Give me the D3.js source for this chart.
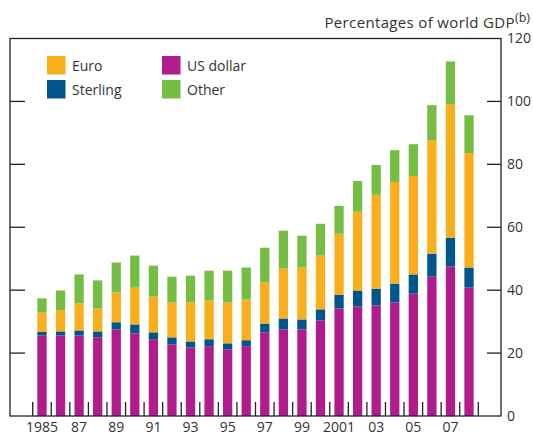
<!DOCTYPE html>
<html><head><meta charset="utf-8">
<script src="https://cdn.jsdelivr.net/npm/d3@7/dist/d3.min.js"></script>
<style>body{margin:0;background:#fff;} text{font-family:"Open Sans","Noto Sans",sans-serif;fill:#333;}</style>
</head><body><svg id="c" width="533" height="435"></svg>
<script>
const years = [1985,1986,1987,1988,1989,1990,1991,1992,1993,1994,1995,1996,1997,1998,1999,2000,2001,2002,2003,2004,2005,2006,2007,2008];
const usDollar = [25.6,25.6,25.6,25.0,27.5,26.3,24.4,22.8,21.8,22.2,21.2,22.2,26.6,27.5,27.5,30.4,34.2,34.8,35.1,36.1,38.9,44.3,47.5,40.8];
const sterling = [1.1,1.3,1.6,1.9,2.3,2.8,2.2,2.2,1.9,2.2,1.9,1.9,2.8,3.5,3.2,3.5,4.4,5.1,5.4,6.0,6.1,7.3,9.2,6.4];
const euro = [6.2,6.7,8.6,7.3,9.5,11.7,11.4,11.1,12.4,12.3,13.0,12.9,13.0,15.9,16.5,17.1,19.3,25.0,29.8,32.3,31.3,36.1,42.4,36.4];
const other = [4.5,6.3,9.2,8.9,9.5,10.2,9.8,8.2,8.5,9.5,10.1,10.2,11.1,12.0,10.1,10.1,8.9,9.8,9.5,10.1,10.1,11.1,13.6,12.0];
const yTicks = [0,20,40,60,80,100,120];
const xLabels = {1985:"1985",1987:"87",1989:"89",1991:"91",1993:"93",1995:"95",1997:"97",1999:"99",2001:"2001",2003:"03",2005:"05",2007:"07"};
const seriesNames = ["US dollar","Sterling","Euro","Other"];
const colors = {"US dollar":"#B01C8B","Sterling":"#00568C","Euro":"#F9AE1C","Other":"#76BE43"};

const svg = d3.select("#c");
const L=10, R=501, T=38.5, B=416;
const x = d3.scaleBand().domain(years).range([32.7,478.3]).paddingInner(0.5).paddingOuter(0.25);
const y = d3.scaleLinear().domain([0,120]).range([B,T]);

const table = years.map((yr,i)=>({year:yr,"US dollar":usDollar[i],"Sterling":sterling[i],"Euro":euro[i],"Other":other[i]}));
const stack = d3.stack().keys(seriesNames)(table);

svg.append("g").selectAll("g").data(stack).join("g").attr("fill",d=>colors[d.key])
  .selectAll("rect").data(d=>d).join("rect")
  .attr("x",d=>x(d.data.year)).attr("width",x.bandwidth())
  .attr("y",d=>y(d[1])).attr("height",d=>y(d[0])-y(d[1]));

// frame
svg.append("rect").attr("x",L).attr("y",T).attr("width",R-L).attr("height",B-T)
  .attr("fill","none").attr("stroke","#222").attr("stroke-width",1.3);

// left ticks
const ticksY = yTicks.filter(v=>v>0&&v<120);
svg.append("g").selectAll("line").data(ticksY).join("line")
  .attr("x1",L).attr("x2",L+15).attr("y1",d=>y(d)).attr("y2",d=>y(d)).attr("stroke","#222").attr("stroke-width",1.3);
// right axis
const rAxis = d3.axisRight(y).tickValues(yTicks).tickSize(0).tickPadding(6);
const rg = svg.append("g").attr("transform",`translate(${R},0)`).call(rAxis);
rg.select(".domain").remove();
rg.selectAll("text").style("font-size","14px").attr("fill","#333").style("font-family","'Open Sans','Noto Sans',sans-serif");
svg.append("g").selectAll("line").data(ticksY).join("line")
  .attr("x1",R-14).attr("x2",R).attr("y1",d=>y(d)).attr("y2",d=>y(d)).attr("stroke","#222").attr("stroke-width",1.3);

// bottom ticks between bars
const step = x.step();
const bounds = years.map(yr=>x(yr)-(step-x.bandwidth())/2);
bounds.push(bounds[bounds.length-1]+step);
svg.append("g").selectAll("line").data(bounds).join("line")
  .attr("x1",d=>d).attr("x2",d=>d).attr("y1",B-14).attr("y2",B).attr("stroke","#222").attr("stroke-width",1.3);

// x labels
svg.append("g").selectAll("text").data(years.filter(yr=>xLabels[yr])).join("text")
  .attr("x",d=>x(d)+x.bandwidth()/2).attr("y",432).attr("text-anchor","middle")
  .style("font-size","14px").text(d=>xLabels[d]);

// title
const t = svg.append("text").attr("x",530).attr("y",28).attr("text-anchor","end").style("font-size","15px").style("letter-spacing","0.35px");
t.append("tspan").text("Percentages of world GDP");
t.append("tspan").attr("dy",-6).style("font-size","12.5px").style("letter-spacing","0px").text("(b)");

// legend
const legend = [{k:"Euro",x:47,y:56},{k:"Sterling",x:47,y:80},{k:"US dollar",x:162,y:56},{k:"Other",x:162,y:80}];
const lg = svg.append("g").selectAll("g").data(legend).join("g").attr("transform",d=>`translate(${d.x},${d.y})`);
lg.append("rect").attr("width",18.5).attr("height",18.5).attr("fill",d=>colors[d.k]);
lg.append("text").attr("x",25).attr("y",15).style("font-size","14px").text(d=>d.k);
</script></body></html>
